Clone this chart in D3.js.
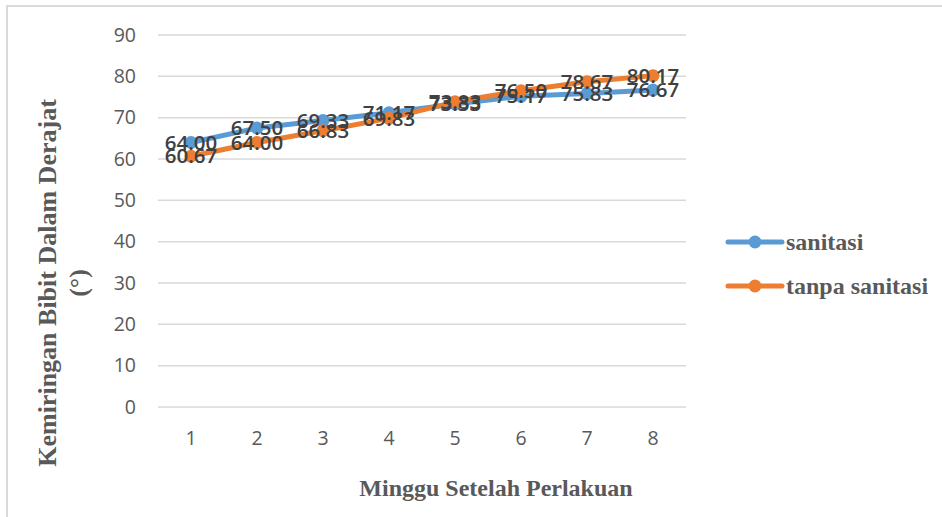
<!DOCTYPE html>
<html>
<head>
<meta charset="utf-8">
<script src="https://cdn.jsdelivr.net/npm/d3@7"></script>
<style>
  body { margin: 0; background: #fff; }
  .grid-line { stroke: #d9d9d9; stroke-width: 1.5; }
  .tick-label { font-family: "Open Sans", sans-serif; font-size: 19.5px; fill: #595959; }
  .data-label { font-family: "Open Sans", sans-serif; font-weight: 600; font-size: 20.5px; fill: #404040; }
  .axis-title { font-family: "Liberation Serif", serif; font-weight: bold; font-size: 24px; fill: #595959; }
</style>
</head>
<body>
<div id="chart"></div>
<script>
var weeks = [1, 2, 3, 4, 5, 6, 7, 8];
var sanitasi = [64.00, 67.50, 69.33, 71.17, 73.33, 75.17, 75.83, 76.67];
var tanpaSanitasi = [60.67, 64.00, 66.83, 69.83, 73.83, 76.50, 78.67, 80.17];
var yTicks = [0, 10, 20, 30, 40, 50, 60, 70, 80, 90];
var seriesNames = ["sanitasi", "tanpa sanitasi"];
var colours = ["#5b9bd5", "#ed7d31"];

var W = 942, H = 517;
var margin = { top: 35, left: 158, right: 256, bottom: 110 };
var width = W - margin.left - margin.right,
    height = H - margin.top - margin.bottom;

var svg = d3.select("#chart").append("svg")
    .attr("width", W)
    .attr("height", H);

// outer chart border (only left/top visible in crop)
svg.append("rect")
    .attr("x", 7).attr("y", 6)
    .attr("width", W + 20).attr("height", H + 20)
    .attr("fill", "none")
    .attr("stroke", "#d9d9d9")
    .attr("stroke-width", 2);

var g = svg.append("g")
    .attr("transform", "translate(" + margin.left + "," + margin.top + ")");

var x = d3.scaleBand().domain(weeks).range([0, width]);
var y = d3.scaleLinear().domain([0, 90]).range([height, 0]);

// grid
g.append("g").selectAll("line")
    .data(yTicks)
    .enter().append("line")
    .attr("class", "grid-line")
    .attr("x1", 0).attr("x2", width)
    .attr("y1", function(d) { return y(d); })
    .attr("y2", function(d) { return y(d); });

// y tick labels
g.append("g").selectAll("text")
    .data(yTicks)
    .enter().append("text")
    .attr("class", "tick-label")
    .attr("x", -22)
    .attr("y", function(d) { return y(d); })
    .attr("dy", "0.35em")
    .attr("text-anchor", "end")
    .text(function(d) { return d; });

// x tick labels
g.append("g").selectAll("text")
    .data(weeks)
    .enter().append("text")
    .attr("class", "tick-label")
    .attr("x", function(d) { return x(d) + x.bandwidth() / 2; })
    .attr("y", height + 31)
    .attr("dy", "0.35em")
    .attr("text-anchor", "middle")
    .text(function(d) { return d; });

var series = [
    { name: seriesNames[0], values: sanitasi, colour: colours[0] },
    { name: seriesNames[1], values: tanpaSanitasi, colour: colours[1] }
];

var line = d3.line()
    .x(function(d, i) { return x(weeks[i]) + x.bandwidth() / 2; })
    .y(function(d) { return y(d); });

series.forEach(function(s) {
    g.append("path")
        .attr("d", line(s.values))
        .attr("fill", "none")
        .attr("stroke", s.colour)
        .attr("stroke-width", 5)
        .attr("stroke-linecap", "round")
        .attr("stroke-linejoin", "round");
    g.append("g").selectAll("circle")
        .data(s.values)
        .enter().append("circle")
        .attr("cx", function(d, i) { return x(weeks[i]) + x.bandwidth() / 2; })
        .attr("cy", function(d) { return y(d); })
        .attr("r", 6.5)
        .attr("fill", s.colour);
});

series.forEach(function(s) {
    g.append("g").selectAll("text")
        .data(s.values)
        .enter().append("text")
        .attr("class", "data-label")
        .attr("x", function(d, i) { return x(weeks[i]) + x.bandwidth() / 2; })
        .attr("y", function(d) { return y(d); })
        .attr("dy", "0.35em")
        .attr("text-anchor", "middle")
        .text(function(d) { return d.toFixed(2); });
});

// legend
var legend = svg.append("g");
series.forEach(function(s, i) {
    var ly = 242 + i * 44;
    legend.append("line")
        .attr("x1", 728).attr("x2", 782)
        .attr("y1", ly).attr("y2", ly)
        .attr("stroke", s.colour)
        .attr("stroke-width", 5)
        .attr("stroke-linecap", "round");
    legend.append("circle")
        .attr("cx", 755).attr("cy", ly)
        .attr("r", 6.5)
        .attr("fill", s.colour);
    legend.append("text")
        .attr("class", "axis-title")
        .attr("x", 786).attr("y", ly)
        .attr("dy", "0.35em")
        .text(s.name);
});

// axis titles
svg.append("text")
    .attr("class", "axis-title")
    .attr("x", 496).attr("y", 488)
    .attr("dy", "0.35em")
    .attr("text-anchor", "middle")
    .text("Minggu Setelah Perlakuan");

var yt = svg.append("text")
    .attr("class", "axis-title")
    .style("font-size", "26px")
    .attr("transform", "translate(47,283) rotate(-90)")
    .attr("text-anchor", "middle");
yt.append("tspan").attr("x", 0).attr("dy", "0.35em").text("Kemiringan Bibit Dalam Derajat");
yt.append("tspan").attr("x", 0).attr("dy", 31).text("(°)");
</script>
</body>
</html>
